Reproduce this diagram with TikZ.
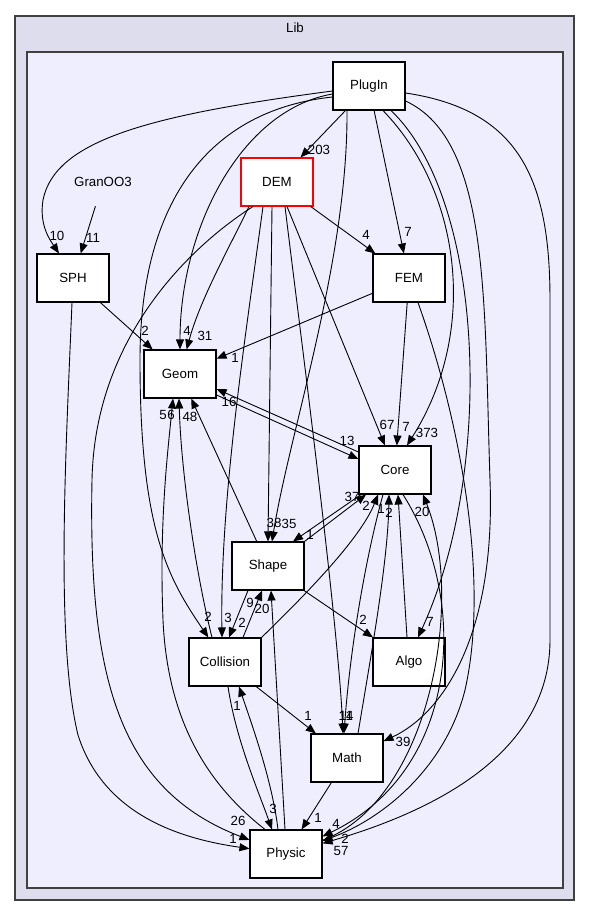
\documentclass[tikz,border=0pt]{standalone}
\usepackage{fontspec}
\setmainfont{Liberation Sans}
\usetikzlibrary{arrows.meta}
\definecolor{libfill}{HTML}{DDDDEE}
\definecolor{granfill}{HTML}{EEEEFF}
\definecolor{frame}{HTML}{404040}

\begin{document}
\begin{tikzpicture}[x=1pt, y=-1pt,
  dir/.style = {draw, rectangle, fill=white, line width=1.1pt, minimum width=72pt, minimum height=48pt, font=\fontsize{13.3}{16}\selectfont},
  plain/.style = {rectangle, minimum width=72pt, minimum height=48pt, font=\fontsize{13.3}{16}\selectfont},
  dep/.style = {draw, line width=0.9pt, -{Triangle[length=10pt, width=8pt]}},
  lbl/.style = {inner sep=0pt, font=\fontsize{13.3}{16}\selectfont}]

\useasboundingbox (0, 0) rectangle (589, 916);

\draw[fill=libfill, draw=frame, line width=1.2pt] (15, 16) rectangle (574, 900);
\node[lbl] (Lib) at (295, 28) {Lib};
\draw[fill=granfill, draw=frame, line width=1.2pt] (27, 52) rectangle (563, 888);

\node[dir] (PlugIn) at (369, 86) {PlugIn};
\node[dir, draw=red] (DEM) at (277, 182) {DEM};
\node[plain] (GranOO3) at (103, 182) {GranOO3};
\node[dir] (SPH) at (73, 278) {SPH};
\node[dir] (FEM) at (409, 278) {FEM};
\node[dir] (Geom) at (180, 374) {Geom};
\node[dir] (Core) at (395, 470) {Core};
\node[dir] (Shape) at (268, 566) {Shape};
\node[dir] (Collision) at (225, 662) {Collision};
\node[dir] (Algo) at (409, 662) {Algo};
\node[dir] (Math) at (347, 758) {Math};
\node[dir] (Physic) at (286, 854) {Physic};

\draw[dep] (PlugIn) -- (DEM) node[lbl] (l1) at (319, 150) {203};
\draw[dep] ([yshift=-5pt]PlugIn.west) .. controls (150, 115) and (55, 140) .. (43, 200) .. controls (39, 225) and (50, 240) .. ([xshift=-14pt]SPH.north) node[lbl] (l2) at (57, 236) {10};
\draw[dep] ([yshift=-8pt]PlugIn.west) .. controls (240, 110) and (180, 230) .. (Geom) node[lbl] (l3) at (187, 331) {4};
\draw[dep] ([yshift=-11pt]PlugIn.west) .. controls (210, 110) and (140, 200) .. (140, 360) .. controls (140, 530) and (168, 578) .. (Collision) node[lbl] (l4) at (208, 617) {2};
\draw[dep] ([xshift=-22pt]PlugIn.south) .. controls (348, 260) and (290, 430) .. ([xshift=4pt]Shape.north) node[lbl] (l5) at (289, 524) {35};
\draw[dep] (PlugIn) -- (FEM) node[lbl] (l6) at (408, 232) {7};
\draw[dep] ([xshift=14pt]PlugIn.south) .. controls (460, 190) and (480, 330) .. ([xshift=12pt]Core.north) node[lbl] (l7) at (427, 433) {373};
\draw[dep] ([xshift=22pt]PlugIn.south) .. controls (485, 200) and (495, 470) .. ([xshift=9pt]Algo.north) node[lbl] (l8) at (430, 622) {7};
\draw[dep] ([yshift=-15pt]PlugIn.east) .. controls (490, 140) and (484, 300) .. (490, 480) .. controls (496, 640) and (440, 715) .. (Math) node[lbl] (l9) at (403, 742) {39};
\draw[dep] ([yshift=-7pt]PlugIn.east) .. controls (520, 110) and (550, 180) .. (550, 300) -- (550, 640) .. controls (550, 760) and (420, 815) .. (Physic) node[lbl] (l10) at (341, 851) {57};

\draw[dep] (DEM) -- (FEM) node[lbl] (l11) at (366, 235) {4};
\draw[dep] ([xshift=-28pt]DEM.south) .. controls (228, 250) and (200, 300) .. (Geom) node[lbl] (l12) at (205, 336) {31};
\draw[dep] (DEM) -- (Core) node[lbl] (l13) at (387, 425) {67};
\draw[dep] ([xshift=-5pt]DEM.south) -- (Shape.north) node[lbl] (l14) at (274, 523) {38};
\draw[dep] ([xshift=-14pt]DEM.south) .. controls (245, 340) and (220, 500) .. ([xshift=-3pt]Collision.north) node[lbl] (l15) at (228, 618) {3};
\draw[dep] ([xshift=8pt]DEM.south) .. controls (300, 330) and (338, 620) .. ([xshift=-4pt]Math.north) node[lbl] (l16) at (346, 716) {11};
\draw[dep] ([xshift=-24pt]DEM.south) .. controls (200, 240) and (95, 330) .. (92, 480) .. controls (88, 680) and (120, 790) .. (Physic) node[lbl] (l17) at (238, 821) {26};

\draw[dep] (GranOO3) -- (SPH) node[lbl] (l18) at (93, 238) {11};
\draw[dep] (SPH) -- (Geom) node[lbl] (l19) at (145, 331) {2};
\draw[dep] (SPH) .. controls (66, 450) and (55, 640) .. (78, 735) .. controls (105, 820) and (190, 840) .. (Physic) node[lbl] (l20) at (233, 839) {1};

\draw[dep] (FEM) -- (Geom) node[lbl] (l21) at (235, 358) {1};
\draw[dep] (FEM) -- (Core) node[lbl] (l22) at (406, 427) {7};
\draw[dep] ([xshift=9pt]FEM.south) .. controls (460, 420) and (490, 580) .. (465, 690) .. controls (445, 770) and (380, 820) .. (Physic) node[lbl] (l23) at (345, 839) {2};

\draw[dep] ([yshift=-21pt]Geom.east) -- ([yshift=11pt]Core.west) node[lbl] (l24) at (347, 441) {13};
\draw[dep] ([yshift=18pt]Core.west) -- ([yshift=-15pt]Geom.east) node[lbl] (l25) at (229, 402) {16};

\draw[dep] ([xshift=-34pt]Core.south) -- ([xshift=25pt]Shape.north) node[lbl] (l26) at (310, 535) {1};
\draw[dep] (Shape.north east) -- ([xshift=-29pt]Core.south) node[lbl] (l27) at (352, 497) {37};
\draw[dep] ([xshift=-12pt]Core.south) .. controls (365, 560) and (350, 650) .. ([xshift=-3pt]Math.north) node[lbl] (l28) at (346, 716) {14};
\draw[dep] ([xshift=8pt]Core.south) .. controls (470, 600) and (460, 770) .. (Physic) node[lbl] (l29) at (336, 824) {4};

\draw[dep] (Shape) -- (Geom) node[lbl] (l30) at (190, 417) {48};
\draw[dep] ([xshift=-20pt]Shape.south) -- ([xshift=4pt]Collision.north) node[lbl] (l31) at (242, 623) {2};
\draw[dep] (Shape) -- (Algo) node[lbl] (l32) at (363, 620) {2};

\draw[dep] ([xshift=-13pt]Collision.north) .. controls (195, 570) and (181, 470) .. ([xshift=-1pt]Geom.south) node[lbl] (l33) at (171, 415) {6};
\draw[dep] (Collision.north east) .. controls (300, 600) and (360, 540) .. ([xshift=-17pt]Core.south) node[lbl] (l34) at (366, 506) {2};
\draw[dep] ([xshift=18pt]Collision.north) -- ([xshift=-6pt]Shape.south) node[lbl] (l35) at (250, 603) {9};
\draw[dep] (Collision) -- (Math) node[lbl] (l36) at (308, 716) {1};
\draw[dep] ([xshift=3pt]Collision.south) .. controls (236, 740) and (258, 790) .. ([xshift=-14pt]Physic.north) node[lbl] (l37) at (273, 809) {3};

\draw[dep] (Math) -- (Physic) node[lbl] (l38) at (318, 818) {1};
\draw[dep] ([xshift=11pt]Math.north) .. controls (372, 650) and (388, 560) .. ([xshift=-6pt]Core.south) node[lbl] (l39) at (381, 509) {1};
\draw[dep] ([xshift=-2pt]Algo.north) -- ([xshift=3pt]Core.south) node[lbl] (l40) at (389, 513) {2};

\draw[dep] ([xshift=-21pt]Physic.north) .. controls (215, 790) and (168, 730) .. (163, 620) .. controls (159, 520) and (168, 450) .. ([xshift=-7pt]Geom.south) node[lbl] (l41) at (163, 415) {5};
\draw[dep] ([xshift=-1pt]Physic.north) -- ([xshift=3pt]Shape.south) node[lbl] (l42) at (262, 609) {20};
\draw[dep] ([xshift=-8pt]Physic.north) .. controls (272, 780) and (252, 725) .. ([xshift=14pt]Collision.south) node[lbl] (l43) at (237, 706) {1};
\draw[dep] (Physic) .. controls (430, 800) and (465, 600) .. ([xshift=28pt]Core.south) node[lbl] (l44) at (422, 512) {20};

\end{tikzpicture}
\end{document}
